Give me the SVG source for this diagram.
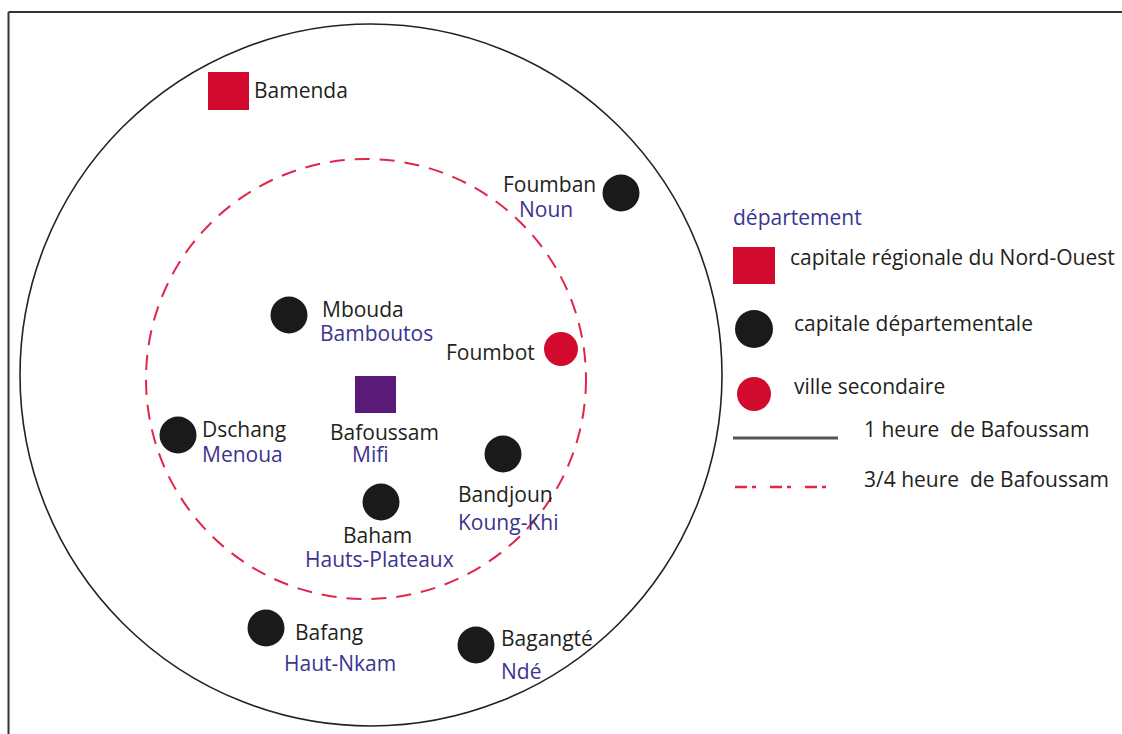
<svg xmlns="http://www.w3.org/2000/svg" width="1122" height="734" viewBox="0 0 1122 734">
<style>
text{font-family:"Open Sans","Liberation Sans",sans-serif;font-size:21px;fill:#231f20;white-space:pre}
.dep{fill:#3b3490}
.city{fill:#1a1a1a}
.red{fill:#d20a2e}
</style>
<rect width="1122" height="734" fill="#fff"/>
<g id="frame" fill="none" stroke="#333" stroke-width="2">
<line x1="8.5" y1="12" x2="1122" y2="12"/>
<line x1="8.5" y1="12" x2="8.5" y2="734"/>
</g>
<g id="connectors" fill="none">
<circle cx="371" cy="375" r="351" stroke="#222" stroke-width="1.6"/>
<circle cx="366" cy="379" r="220" stroke="#e0264a" stroke-width="2" stroke-dasharray="15 10"/>
</g>
<g id="bamenda"><rect x="208" y="72" width="41" height="38" class="red"/><text x="254" y="98">Bamenda</text></g>
<g id="foumban"><circle cx="621" cy="193" r="18.5" class="city"/><text x="503" y="192">Foumban</text><text x="519" y="217" class="dep">Noun</text></g>
<g id="mbouda"><circle cx="289" cy="315" r="18.5" class="city"/><text x="322" y="317">Mbouda</text><text x="320" y="341" class="dep">Bamboutos</text></g>
<g id="foumbot"><circle cx="561" cy="349" r="17" class="red"/><text x="446" y="360">Foumbot</text></g>
<g id="bafoussam"><rect x="355" y="376" width="41" height="37" fill="#5a1a78"/><text x="330" y="440">Bafoussam</text><text x="352" y="462" class="dep">Mifi</text></g>
<g id="dschang"><circle cx="178" cy="435" r="18.5" class="city"/><text x="202" y="437">Dschang</text><text x="202" y="462" class="dep">Menoua</text></g>
<g id="bandjoun"><circle cx="503" cy="454" r="18.5" class="city"/><text x="458" y="502">Bandjoun</text><text x="458" y="530" class="dep">Koung-Khi</text></g>
<g id="baham"><circle cx="381" cy="502" r="18.5" class="city"/><text x="343" y="543">Baham</text><text x="305" y="567" class="dep">Hauts-Plateaux</text></g>
<g id="bafang"><circle cx="266" cy="628" r="18.5" class="city"/><text x="295" y="640">Bafang</text><text x="284" y="671" class="dep">Haut-Nkam</text></g>
<g id="bagangte"><circle cx="476" cy="645" r="18.5" class="city"/><text x="501" y="646">Bagangté</text><text x="501" y="679" class="dep">Ndé</text></g>
<g id="legend">
<text x="733" y="225" class="dep">département</text>
<rect x="733" y="247" width="42" height="37" class="red"/>
<text x="790" y="265">capitale régionale du Nord-Ouest</text>
<circle cx="754" cy="329" r="19" class="city"/>
<text x="794" y="331">capitale départementale</text>
<circle cx="754" cy="394" r="17" class="red"/>
<text x="794" y="394">ville secondaire</text>
<line x1="733" y1="438" x2="838" y2="438" stroke="#555" stroke-width="3"/>
<text x="864" y="437">1 heure  de Bafoussam</text>
<line x1="735" y1="487" x2="838" y2="487" stroke="#e0264a" stroke-width="2.5" stroke-dasharray="12 5 4 14"/>
<text x="864" y="487">3/4 heure  de Bafoussam</text>
</g>
</svg>
